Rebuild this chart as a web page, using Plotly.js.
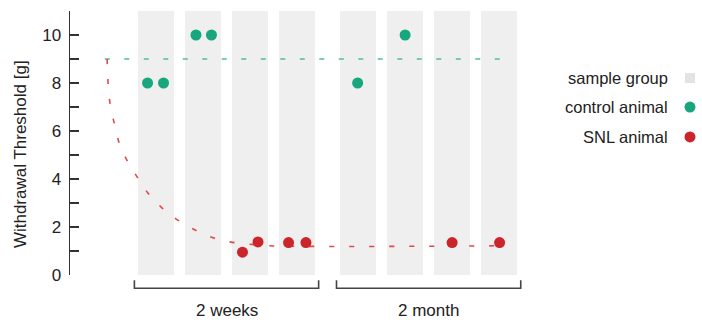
<!DOCTYPE html>
<html>
<head>
<meta charset="utf-8">
<script src="https://cdn.plot.ly/plotly-3.0.1.min.js"></script>
<style>html,body{margin:0;padding:0;background:#fff;}#chart{width:702px;height:320px;}</style>
</head>
<body>
<div id="chart"></div>
<script>
// ---- data ----
var groupX = [1, 2, 3, 4, 5.3, 6.3, 7.3, 8.3];
var groupTop = [11, 11, 11, 11, 11, 11, 11, 11];
var controlX = [0.82, 1.16, 1.85, 2.18, 5.29, 6.30];
var controlY = [8, 8, 10, 10, 8, 10];
var snlX = [2.84, 3.17, 3.82, 4.19, 7.30, 8.31];
var snlY = [0.95, 1.38, 1.35, 1.35, 1.35, 1.35];
var controlFitX = [-0.09, 8.38];
var controlFitY = [9, 9];
var snlFitX = [-0.04, -0.02, 0.02, 0.11, 0.21, 0.38, 0.60, 0.81, 1.11, 1.43, 1.79, 2.17, 2.57, 2.96, 3.38, 8.40];
var snlFitY = [9.0, 8.0, 7.17, 6.33, 5.54, 4.79, 4.08, 3.46, 2.83, 2.33, 1.92, 1.58, 1.38, 1.29, 1.22, 1.22];
var yTickVals = [0, 1, 2, 3, 4, 5, 6, 7, 8, 9, 10, 11];
var yTickText = ['0', '', '2', '', '4', '', '6', '', '8', '', '10', ''];
var yTitle = 'Withdrawal Threshold [g]';
var bracketLabels = ['2 weeks', '2 month'];
var bracketGroups = [[0, 3], [4, 7]];
var legendLabels = ['sample group', 'control animal', 'SNL animal'];

// ---- style ----
var barW = 0.78;
var xMin = -0.83, xMax = 8.957;
var font = 'Liberation Sans, Arial, sans-serif';
var green = '#17a67d', red = '#c9252b', grey = '#efefef';

function px2paper(u) { return (u - xMin) / (xMax - xMin); }

var traces = [
  {type: 'bar', x: groupX, y: groupTop, width: barW, marker: {color: grey}, hoverinfo: 'skip', showlegend: false},
  {type: 'scatter', mode: 'lines', x: controlFitX, y: controlFitY, line: {color: '#52bf9b', width: 1.5, dash: '5px,14.5px'}, showlegend: false},
  {type: 'scatter', mode: 'lines', x: snlFitX, y: snlFitY, line: {color: '#e2474c', width: 1.6, dash: '5px,15px', shape: 'spline'}, showlegend: false},
  {type: 'scatter', mode: 'markers', x: controlX, y: controlY, marker: {color: green, size: 11}, showlegend: false},
  {type: 'scatter', mode: 'markers', x: snlX, y: snlY, marker: {color: red, size: 11}, showlegend: false}
];

var shapes = [], annotations = [];
var pad = 0.07;
bracketGroups.forEach(function (g, i) {
  var x0 = px2paper(groupX[g[0]] - barW / 2 - pad);
  var x1 = px2paper(groupX[g[1]] + barW / 2 + pad);
  var yTop = -0.02, yBot = -0.05;
  var ln = {color: '#444', width: 1.6};
  shapes.push({type: 'path', xref: 'paper', yref: 'paper',
    path: 'M' + x0 + ',' + yTop + ' L' + x0 + ',' + yBot + ' L' + x1 + ',' + yBot + ' L' + x1 + ',' + yTop,
    line: ln});
  annotations.push({xref: 'paper', yref: 'paper', x: (x0 + x1) / 2, y: -0.133, text: bracketLabels[i],
    showarrow: false, xanchor: 'center', yanchor: 'middle', font: {family: font, size: 17, color: '#222'}});
});

annotations.push({xref: 'paper', yref: 'paper', x: -0.1087, y: 0.458, text: yTitle, textangle: -90,
  showarrow: false, xanchor: 'center', yanchor: 'middle', font: {family: font, size: 17, color: '#222'}});

var legY = [0.746, 0.636, 0.523];
var legTextX = 1.3043, legSymX = 1.3478;
legendLabels.forEach(function (t, i) {
  annotations.push({xref: 'paper', yref: 'paper', x: legTextX, y: legY[i], text: t, showarrow: false,
    xanchor: 'right', yanchor: 'middle', font: {family: font, size: 16.5, color: '#222'}});
});
shapes.push({type: 'rect', xref: 'paper', yref: 'paper', xsizemode: 'pixel', ysizemode: 'pixel',
  xanchor: legSymX, yanchor: legY[0], x0: -5, x1: 5, y0: -5, y1: 5, fillcolor: '#e3e3e3', line: {width: 0}});
shapes.push({type: 'circle', xref: 'paper', yref: 'paper', xsizemode: 'pixel', ysizemode: 'pixel',
  xanchor: legSymX, yanchor: legY[1], x0: -5.5, x1: 5.5, y0: -5.5, y1: 5.5, fillcolor: green, line: {width: 0}});
shapes.push({type: 'circle', xref: 'paper', yref: 'paper', xsizemode: 'pixel', ysizemode: 'pixel',
  xanchor: legSymX, yanchor: legY[2], x0: -5.5, x1: 5.5, y0: -5.5, y1: 5.5, fillcolor: red, line: {width: 0}});

var layout = {
  width: 702, height: 320,
  margin: {l: 70, r: 172, t: 11, b: 45},
  paper_bgcolor: '#fff', plot_bgcolor: '#fff',
  font: {family: font, size: 17, color: '#222'},
  showlegend: false,
  bargap: 0,
  xaxis: {range: [xMin, xMax], visible: false, showgrid: false, zeroline: false, fixedrange: true},
  yaxis: {range: [0, 11], showgrid: false, zeroline: false, showline: true, linecolor: '#333', linewidth: 1.5,
    ticks: 'inside', ticklen: 9, tickwidth: 1.5, tickcolor: '#333',
    tickvals: yTickVals, ticktext: yTickText, ticklabelstandoff: 4,
    tickfont: {family: font, size: 17, color: '#222'},
    automargin: false},
  shapes: shapes,
  annotations: annotations
};

Plotly.newPlot('chart', traces, layout, {displayModeBar: false, staticPlot: true});
</script>
</body>
</html>
